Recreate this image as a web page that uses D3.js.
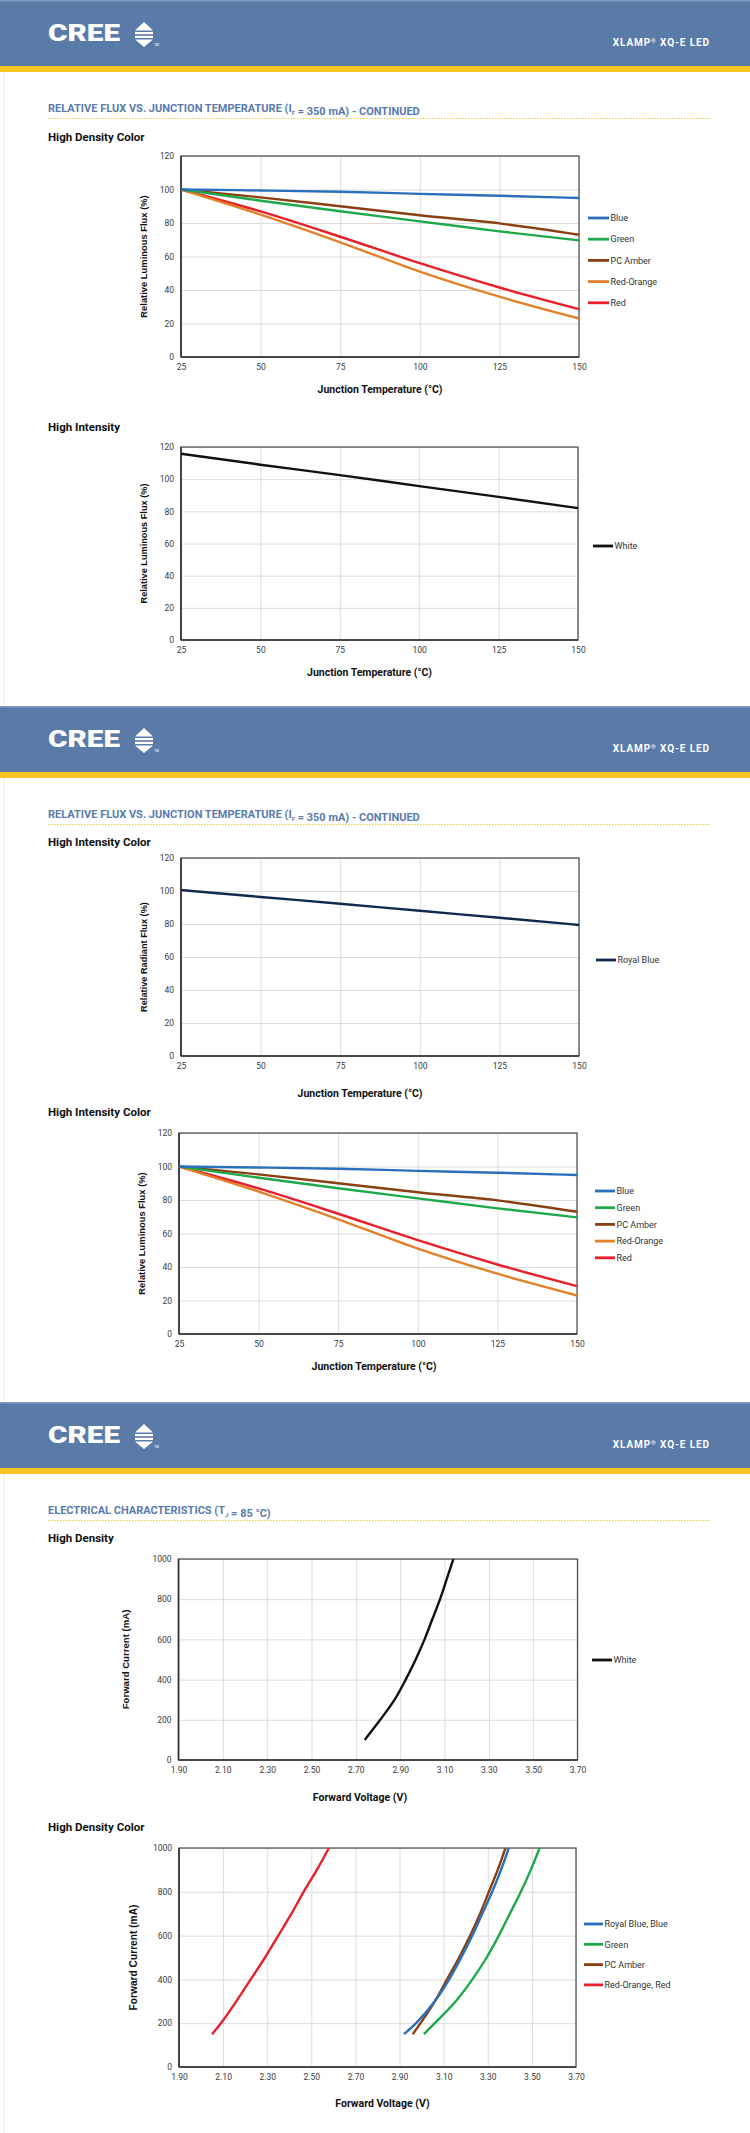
<!DOCTYPE html>
<html>
<head>
<meta charset="utf-8">
<script src="https://cdn.jsdelivr.net/npm/d3@7"></script>
<style>
  html, body { margin: 0; padding: 0; background: #fff; }
  svg { display: block; }
</style>
</head>
<body>
<script>
// ---------------- DATA ----------------
const tempC = [25, 50, 75, 100, 125, 150];
const tempTickLabels = ["25", "50", "75", "100", "125", "150"];
const fluxTicks = [0, 20, 40, 60, 80, 100, 120];

const fluxBlue      = [100, 99.4, 98.7, 97.4, 96.3, 94.9];
const fluxGreen     = [100, 93.3, 87.0, 81.0, 75.0, 69.6];
const fluxPCAmber   = [100, 95.3, 90.0, 84.6, 79.8, 73.0];
const fluxRedOrange = [100, 85.0, 68.5, 51.0, 36.0, 23.0];
const fluxRed       = [100, 86.9, 71.8, 56.0, 41.5, 28.6];
const fluxWhite     = [115.8, 109.0, 102.5, 95.7, 89.0, 82.0];
const fluxRoyalBlue = [100.6, 96.4, 92.3, 88.0, 83.8, 79.4];

const voltTickLabels = ["1.90", "2.10", "2.30", "2.50", "2.70", "2.90", "3.10", "3.30", "3.50", "3.70"];
const currentTicks = [0, 200, 400, 600, 800, 1000];

const viWhiteV = [2.74, 2.81, 2.875, 2.925, 2.97, 3.01, 3.045, 3.08, 3.11, 3.14];
const viWhiteI = [100, 200, 300, 400, 500, 600, 700, 800, 900, 1000];

const viColorI      = [150, 200, 300, 400, 500, 600, 700, 800, 900, 1000];
const viRoyalBlueV  = [2.92, 2.975, 3.06, 3.125, 3.18, 3.23, 3.275, 3.32, 3.36, 3.395];
const viGreenV      = [3.01, 3.06, 3.155, 3.23, 3.295, 3.35, 3.40, 3.45, 3.495, 3.535];
const viPCAmberV    = [2.96, 2.995, 3.06, 3.115, 3.17, 3.22, 3.265, 3.305, 3.345, 3.38];
const viRedV        = [2.05, 2.09, 2.16, 2.225, 2.29, 2.35, 2.41, 2.465, 2.525, 2.58];

// ---------------- STYLE ----------------
const C = {
  blue: "#2a6fbb", green: "#1ea84c", amber: "#8a4014", redOrange: "#e3802a",
  red: "#e8202a", black: "#111111", royal: "#0f2a4e",
  band: "#5a7aa8", yellow: "#f5c622", title: "#5a7bae"
};
const FONT = "Roboto, 'Noto Sans', sans-serif";

const svg = d3.select("body").append("svg").attr("width", 750).attr("height", 2133);
svg.append("rect").attr("width", 750).attr("height", 2133).attr("fill", "#fff");

// faint page edges
[[72, 706], [776, 1402], [1472, 2133]].forEach(([a, b]) => {
  svg.append("line").attr("x1", 4).attr("x2", 4).attr("y1", a).attr("y2", b)
    .attr("stroke", "#ececec").attr("stroke-width", 1);
});

function header(top) {
  const g = svg.append("g");
  g.append("rect").attr("x", 0).attr("y", top).attr("width", 750).attr("height", 66).attr("fill", C.band);
  g.append("rect").attr("x", 0).attr("y", top).attr("width", 750).attr("height", 1.5).attr("fill", "#7f9bc2");
  g.append("rect").attr("x", 0).attr("y", top + 66).attr("width", 750).attr("height", 6).attr("fill", C.yellow);
  g.append("text").attr("x", 48).attr("y", top + 41)
    .attr("font-family", FONT).attr("font-weight", 900).attr("font-size", 23)
    .attr("textLength", 72).attr("lengthAdjust", "spacingAndGlyphs")
    .attr("fill", "#fff").text("CREE");
  // arrows
  const ax = 135, aw = 18;
  g.append("path").attr("d", `M${ax},${top + 30.5}L${ax + aw / 2},${top + 22}L${ax + aw},${top + 30.5}Z`).attr("fill", "#fff");
  g.append("rect").attr("x", ax).attr("y", top + 32).attr("width", aw).attr("height", 2.2).attr("fill", "#fff");
  g.append("rect").attr("x", ax).attr("y", top + 35.8).attr("width", aw).attr("height", 2.2).attr("fill", "#fff");
  g.append("path").attr("d", `M${ax},${top + 39.5}L${ax + aw / 2},${top + 47}L${ax + aw},${top + 39.5}Z`).attr("fill", "#fff");
  g.append("text").attr("x", ax + aw + 1).attr("y", top + 46).attr("font-family", FONT)
    .attr("font-size", 3.5).attr("fill", "#fff").text("TM");
  const t = g.append("text").attr("x", 710).attr("y", top + 46).attr("text-anchor", "end")
    .attr("font-family", FONT).attr("font-weight", 700).attr("font-size", 10)
    .attr("letter-spacing", 0.9).attr("fill", "#fff");
  t.append("tspan").text("XLAMP");
  t.append("tspan").attr("font-size", 6).attr("dy", -3).text("®");
  t.append("tspan").attr("dy", 3).text(" XQ-E LED");
}

function sectionTitle(top, parts) {
  const t = svg.append("text").attr("x", 48).attr("y", top + 112)
    .attr("font-family", FONT).attr("font-weight", 700).attr("font-size", 11)
    .attr("fill", C.title);
  parts.forEach(p => {
    if (p.sub) {
      t.append("tspan").attr("font-size", 6).attr("dy", 2.5).text(p.sub);
      t.append("tspan").attr("dy", -2.5).text("");
    } else {
      t.append("tspan").text(p.text);
    }
  });
  svg.append("line").attr("x1", 48).attr("x2", 710).attr("y1", top + 118.5).attr("y2", top + 118.5)
    .attr("stroke", "#f0c842").attr("stroke-width", 1).attr("stroke-dasharray", "1.5,1.5");
}

function subTitle(y, text) {
  svg.append("text").attr("x", 48).attr("y", y + 4)
    .attr("font-family", FONT).attr("font-weight", 700).attr("font-size", 11.5)
    .attr("fill", "#111").text(text);
}

function chart(o) {
  const g = svg.append("g");
  const w = o.right - o.left, h = o.bottom - o.top;
  const x = d3.scaleLinear().domain(o.xDomain).range([o.left, o.right]);
  const y = d3.scaleLinear().domain(o.yDomain).range([o.bottom, o.top]);

  const xa = g.append("g").attr("transform", `translate(0,${o.bottom})`)
    .call(d3.axisBottom(x).tickValues(o.xTicks).tickFormat((d, i) => o.xLabels[i])
      .tickSizeInner(-h).tickSizeOuter(0).tickPadding(7));
  const ya = g.append("g").attr("transform", `translate(${o.left},0)`)
    .call(d3.axisLeft(y).tickValues(o.yTicks).tickFormat(d => String(d))
      .tickSizeInner(-w).tickSizeOuter(0).tickPadding(7));
  [xa, ya].forEach(a => {
    a.select(".domain").remove();
    a.selectAll("line").attr("stroke", "#dcdcdc").attr("stroke-width", 1);
    a.selectAll("text").attr("font-family", FONT).attr("font-size", 8.5).attr("fill", "#3a3a3a");
  });

  g.append("rect").attr("x", o.left).attr("y", o.top).attr("width", w).attr("height", h)
    .attr("fill", "none").attr("stroke", "#555").attr("stroke-width", 1.3);
  g.append("line").attr("x1", o.left).attr("x2", o.right).attr("y1", o.bottom).attr("y2", o.bottom)
    .attr("stroke", "#333").attr("stroke-width", 1.6);
  g.append("line").attr("x1", o.left).attr("x2", o.left).attr("y1", o.top).attr("y2", o.bottom)
    .attr("stroke", "#333").attr("stroke-width", 1.6);

  const line = d3.line().x(d => x(d[0])).y(d => y(d[1])).curve(o.curve);
  const clipId = "clip" + Math.round(o.top);
  g.append("clipPath").attr("id", clipId).append("rect")
    .attr("x", o.left - 2).attr("y", o.top).attr("width", w + 4).attr("height", h);
  o.series.slice().reverse().forEach(s => {
    const pts = s.xs.map((v, i) => [v, s.ys[i]]);
    g.append("path").attr("d", line(pts)).attr("fill", "none")
      .attr("stroke", s.color).attr("stroke-width", 2.4).attr("stroke-linejoin", "round")
      .attr("clip-path", `url(#${clipId})`);
  });

  o.series.forEach((s, i) => {
    const ly = o.legend.y0 + i * o.legend.step;
    g.append("line").attr("x1", o.legend.x1).attr("x2", o.legend.x2).attr("y1", ly).attr("y2", ly)
      .attr("stroke", s.color).attr("stroke-width", 2.8);
    g.append("text").attr("x", o.legend.x2 + 1.5).attr("y", ly + 3.2)
      .attr("font-family", FONT).attr("font-size", 9).attr("fill", "#333").text(s.name);
  });

  g.append("text").attr("x", (o.left + o.right) / 2 + o.xTitleDx).attr("y", o.bottom + o.xTitleDy + 4)
    .attr("text-anchor", "middle").attr("font-family", FONT).attr("font-weight", 700)
    .attr("font-size", 10.5).attr("fill", "#111").text(o.xTitle);
  const yc = (o.top + o.bottom) / 2;
  g.append("text").attr("transform", `translate(${o.yTitleX + 3.5},${yc}) rotate(-90)`)
    .attr("text-anchor", "middle").attr("font-family", "'Liberation Sans', Arial, sans-serif")
    .attr("font-weight", 700).attr("font-size", o.yTitleSize).attr("fill", "#111").text(o.yTitle);
}

const fluxX = { xDomain: [25, 150], xTicks: tempC, xLabels: tempTickLabels, yDomain: [0, 120], yTicks: fluxTicks,
  xTitle: "Junction Temperature (°C)", curve: d3.curveMonotoneX };
const colorSeries = [
  { name: "Blue", color: C.blue, xs: tempC, ys: fluxBlue },
  { name: "Green", color: C.green, xs: tempC, ys: fluxGreen },
  { name: "PC Amber", color: C.amber, xs: tempC, ys: fluxPCAmber },
  { name: "Red-Orange", color: C.redOrange, xs: tempC, ys: fluxRedOrange },
  { name: "Red", color: C.red, xs: tempC, ys: fluxRed }
];
const voltTicks = voltTickLabels.map(s => +s);
const viX = { xDomain: [1.9, 3.7], xTicks: voltTicks, xLabels: voltTickLabels, yDomain: [0, 1000], yTicks: currentTicks,
  xTitle: "Forward Voltage (V)", curve: d3.curveCatmullRom.alpha(0.5) };

// ---------------- PAGE 1 ----------------
header(0);
sectionTitle(0, [{ text: "RELATIVE FLUX VS. JUNCTION TEMPERATURE (I" }, { sub: "F" }, { text: " = 350 mA) - CONTINUED" }]);
subTitle(137, "High Density Color");
chart(Object.assign({}, fluxX, {
  left: 181, right: 579, top: 156, bottom: 357,
  series: colorSeries, legend: { x1: 588, x2: 609, y0: 218, step: 21.2 },
  xTitleDy: 32, xTitleDx: 0, yTitle: "Relative Luminous Flux (%)", yTitleX: 143, yTitleSize: 9.4
}));

subTitle(427, "High Intensity");
chart(Object.assign({}, fluxX, {
  left: 181, right: 578, top: 447, bottom: 640,
  series: [{ name: "White", color: C.black, xs: tempC, ys: fluxWhite }],
  legend: { x1: 593, x2: 613, y0: 546, step: 0 },
  xTitleDy: 32, xTitleDx: -10, yTitle: "Relative Luminous Flux (%)", yTitleX: 143, yTitleSize: 9.2
}));

// ---------------- PAGE 2 ----------------
header(706);
sectionTitle(706, [{ text: "RELATIVE FLUX VS. JUNCTION TEMPERATURE (I" }, { sub: "F" }, { text: " = 350 mA) - CONTINUED" }]);
subTitle(842, "High Intensity Color");
chart(Object.assign({}, fluxX, {
  left: 181, right: 579, top: 858, bottom: 1056,
  series: [{ name: "Royal Blue", color: C.royal, xs: tempC, ys: fluxRoyalBlue }],
  legend: { x1: 596, x2: 616, y0: 960, step: 0 },
  xTitleDy: 37, xTitleDx: -20, yTitle: "Relative Radiant Flux (%)", yTitleX: 143, yTitleSize: 9.2
}));

subTitle(1112, "High Intensity Color");
chart(Object.assign({}, fluxX, {
  left: 179, right: 577, top: 1133, bottom: 1334,
  series: colorSeries, legend: { x1: 595, x2: 615, y0: 1191, step: 16.7 },
  xTitleDy: 32, xTitleDx: -4, yTitle: "Relative Luminous Flux (%)", yTitleX: 141, yTitleSize: 9.4
}));

// ---------------- PAGE 3 ----------------
header(1402);
sectionTitle(1402, [{ text: "ELECTRICAL CHARACTERISTICS (T" }, { sub: "J" }, { text: " = 85 °C)" }]);
subTitle(1538, "High Density");
chart(Object.assign({}, viX, {
  left: 178.5, right: 577.5, top: 1559, bottom: 1760,
  series: [{ name: "White", color: C.black, xs: viWhiteV, ys: viWhiteI }],
  legend: { x1: 592, x2: 612, y0: 1660, step: 0 },
  xTitleDy: 37, xTitleDx: -18, yTitle: "Forward Current (mA)", yTitleX: 125, yTitleSize: 9.6
}));

subTitle(1827, "High Density Color");
chart(Object.assign({}, viX, {
  left: 179, right: 576, top: 1848, bottom: 2067,
  series: [
    { name: "Royal Blue, Blue", color: C.blue, xs: viRoyalBlueV, ys: viColorI },
    { name: "Green", color: C.green, xs: viGreenV, ys: viColorI },
    { name: "PC Amber", color: C.amber, xs: viPCAmberV, ys: viColorI },
    { name: "Red-Orange, Red", color: C.red, xs: viRedV, ys: viColorI }
  ],
  legend: { x1: 584, x2: 603, y0: 1924, step: 20.3 },
  xTitleDy: 36, xTitleDx: 5, yTitle: "Forward Current (mA)", yTitleX: 133, yTitleSize: 10.2
}));
</script>
</body>
</html>
